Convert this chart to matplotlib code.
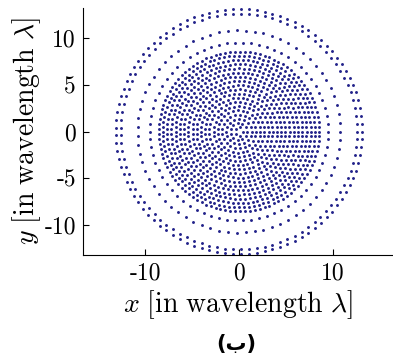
import numpy as np
import matplotlib
matplotlib.use('Agg')
import matplotlib.pyplot as plt

# ring radii (in wavelengths) and number of elements on each ring
ring_radius = [0.45, 0.90, 1.35, 1.80, 2.25, 2.70, 3.15, 3.60, 4.05, 4.50,
               4.95, 5.40, 5.85, 6.30, 6.75, 7.20, 7.65, 8.10, 8.55,
               9.50, 10.80, 12.60, 13.10]
ring_count = [5, 11, 16, 21, 27, 32, 37, 43, 48, 53,
              59, 64, 69, 75, 80, 85, 91, 96, 101,
              70, 71, 93, 97]

xticks = [-10, 0, 10]
xtick_labels = ['-10', '0', '10']
yticks = [-10, -5, 0, 5, 10]
ytick_labels = ['-10', '-5', '0', '5', '10']

plt.rcParams['font.family'] = 'serif'
plt.rcParams['font.serif'] = ['cmr10']
plt.rcParams['mathtext.fontset'] = 'cm'
plt.rcParams['axes.unicode_minus'] = False
plt.rcParams['axes.formatter.use_mathtext'] = True

fig = plt.figure(figsize=(3.93, 3.58), dpi=100)
ax = fig.add_axes([83/393, 1 - 255/358, 1 - 83/393, (255 - 8)/358])

xs, ys = [], []
for r, n in zip(ring_radius, ring_count):
    ang = 2*np.pi*np.arange(n)/n
    xs.append(r*np.cos(ang))
    ys.append(r*np.sin(ang))
xs = np.concatenate(xs)
ys = np.concatenate(ys)

ax.plot(xs, ys, 'o', ms=2.1, mew=0, color='#22228a', clip_on=False)

ax.set_xlim(-16.6, 16.4)
ax.set_ylim(-13.2, 13.2)

ax.spines['top'].set_visible(False)
ax.spines['right'].set_visible(False)
ax.set_xticks(xticks)
ax.set_xticklabels(xtick_labels)
ax.set_yticks(yticks)
ax.set_yticklabels(ytick_labels)
ax.tick_params(direction='in', length=4, labelsize=17, pad=5)

ax.set_xlabel(r'$x\ [\mathrm{in\ wavelength}\ \lambda]$', fontsize=20, labelpad=3)
ax.set_ylabel(r'$y\ [\mathrm{in\ wavelength}\ \lambda]$', fontsize=20, labelpad=1)

fig.text(236/393, 1 - 344/358, '(ب)', family=['DejaVu Sans'], weight='bold',
         fontsize=15, ha='center', va='center')

fig.savefig('out.png', dpi=100)
